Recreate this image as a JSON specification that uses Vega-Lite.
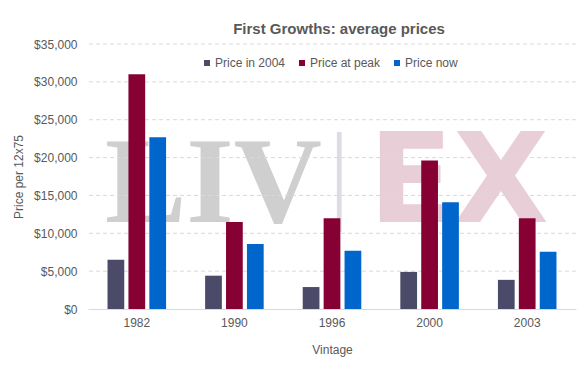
{
  "$schema": "https://vega.github.io/schema/vega-lite/v6.json",
  "width": 488,
  "height": 265,
  "autosize": {"type": "none"},
  "padding": {"left": 88, "top": 44, "right": 4, "bottom": 66},
  "background": "white",
  "config": {
    "font": "Liberation Sans",
    "view": {"stroke": null},
    "axis": {"labelOverlap": false},
    "axisX": {"labelAlign": "center", "labelAngle": 0, "labelOverlap": false},
    "axisY": {"labelOverlap": false, "labelAlign": "right", "labelBaseline": "middle", "tickCount": 8}
  },
  "title": {
    "text": "First Growths: average prices",
    "fontSize": 15,
    "fontWeight": "bold",
    "color": "#595959",
    "anchor": "middle",
    "dx": 7,
    "dy": 4,
    "offset": 5,
    "font": "Liberation Sans"
  },
  "layer": [
    {
      "data": {"values": [{"label": "LIV", "Vintage": "1990", "Price": 11500}]},
      "mark": {"type": "text", "font": "Liberation Serif", "fontWeight": "bold", "fontSize": 122, "color": "#cfcfcf", "align": "center", "baseline": "alphabetic", "dx": -21},
      "encoding": {
        "x": {"field": "Vintage", "type": "nominal"},
        "y": {"field": "Price", "type": "quantitative"},
        "text": {"field": "label"}
      }
    },
    {
      "data": {"values": [{"label": "EX", "Vintage": "2000", "Price": 11500}]},
      "mark": {"type": "text", "font": "DejaVu Sans", "fontWeight": "bold", "fontSize": 124, "color": "#e8cfd7", "align": "center", "baseline": "alphabetic", "dx": 29},
      "encoding": {
        "x": {"field": "Vintage", "type": "nominal"},
        "y": {"field": "Price", "type": "quantitative"},
        "text": {"field": "label"}
      }
    },
    {
      "data": {"values": [{"label": "|", "Vintage": "1996", "Price": 13300}]},
      "mark": {"type": "text", "font": "DejaVu Sans", "fontWeight": 200, "fontSize": 100, "color": "#dcdce3", "align": "center", "baseline": "alphabetic", "dx": 7},
      "encoding": {
        "x": {"field": "Vintage", "type": "nominal"},
        "y": {"field": "Price", "type": "quantitative"},
        "text": {"field": "label"}
      }
    },
    {
      "data": {"values": [{"Price": 5000}, {"Price": 10000}, {"Price": 15000}, {"Price": 20000}, {"Price": 25000}, {"Price": 30000}, {"Price": 35000}]},
      "mark": {"type": "rule", "color": "#d9d9d9", "strokeWidth": 1, "strokeDash": [4, 3]},
      "encoding": {
        "y": {"field": "Price", "type": "quantitative"}
      }
    },
    {
      "data": {
        "values": [
          {"Vintage": "1982", "Series": "Price in 2004", "Price": 6500},
          {"Vintage": "1982", "Series": "Price at peak", "Price": 31000},
          {"Vintage": "1982", "Series": "Price now", "Price": 22700},
          {"Vintage": "1990", "Series": "Price in 2004", "Price": 4400},
          {"Vintage": "1990", "Series": "Price at peak", "Price": 11500},
          {"Vintage": "1990", "Series": "Price now", "Price": 8600},
          {"Vintage": "1996", "Series": "Price in 2004", "Price": 2900},
          {"Vintage": "1996", "Series": "Price at peak", "Price": 12000},
          {"Vintage": "1996", "Series": "Price now", "Price": 7700},
          {"Vintage": "2000", "Series": "Price in 2004", "Price": 4900},
          {"Vintage": "2000", "Series": "Price at peak", "Price": 19600},
          {"Vintage": "2000", "Series": "Price now", "Price": 14100},
          {"Vintage": "2003", "Series": "Price in 2004", "Price": 3850},
          {"Vintage": "2003", "Series": "Price at peak", "Price": 12000},
          {"Vintage": "2003", "Series": "Price now", "Price": 7550}
        ]
      },
      "mark": {"type": "bar"},
      "encoding": {
        "x": {
          "field": "Vintage",
          "type": "nominal",
          "scale": {"domain": ["1982", "1990", "1996", "2000", "2003"], "paddingInner": 0.4, "paddingOuter": 0.2},
          "axis": {
            "title": "Vintage",
            "labelAngle": 0,
            "labelAlign": "center",
            "domainColor": "#d9d9d9",
            "ticks": false,
            "tickSize": 0,
            "grid": false,
            "labelPadding": 8,
            "labelFontSize": 12,
            "labelColor": "#595959",
            "titleFontSize": 12,
            "titleFontWeight": "normal",
            "titleColor": "#595959",
            "titlePadding": 16
          }
        },
        "xOffset": {
          "field": "Series",
          "type": "nominal",
          "scale": {"domain": ["Price in 2004", "Price at peak", "Price now"], "paddingInner": 0.2, "paddingOuter": 0}
        },
        "y": {
          "field": "Price",
          "type": "quantitative",
          "scale": {"domain": [0, 35000], "nice": false},
          "axis": {
            "title": "Price per 12x75",
            "values": [0, 5000, 10000, 15000, 20000, 25000, 30000, 35000],
            "tickCount": 8,
            "format": "$,.0f",
            "labelOverlap": false,
            "labelSeparation": 0,
            "domain": false,
            "ticks": false,
            "tickSize": 0,
            "grid": false,
            "labelPadding": 11,
            "labelFontSize": 12,
            "labelColor": "#595959",
            "titleFontSize": 12,
            "titleFontWeight": "normal",
            "titleColor": "#595959",
            "titlePadding": 8
          }
        },
        "color": {
          "field": "Series",
          "type": "nominal",
          "scale": {"domain": ["Price in 2004", "Price at peak", "Price now"], "range": ["#4b4a68", "#870033", "#0066cc"]},
          "legend": {
            "title": null,
            "orient": "none",
            "direction": "horizontal",
            "columns": 3,
            "legendX": 113,
            "legendY": 13,
            "padding": 0,
            "symbolType": "square",
            "symbolSize": 36,
            "symbolStrokeWidth": 0,
            "labelFontSize": 12,
            "labelColor": "#595959",
            "labelOffset": 2,
            "columnPadding": 10
          }
        }
      }
    }
  ]
}
